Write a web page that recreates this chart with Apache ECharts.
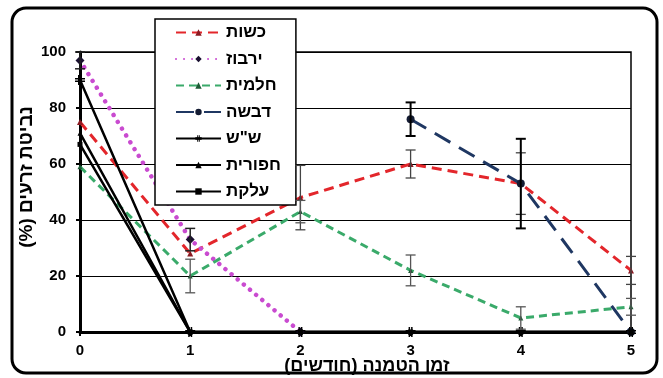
<!DOCTYPE html>
<html>
<head>
<meta charset="utf-8">
<script src="https://cdn.jsdelivr.net/npm/echarts@6/dist/echarts.min.js"></script>
<style>
  html, body { margin: 0; padding: 0; background: #fff; }
  #chart { width: 663px; height: 378px; }
</style>
</head>
<body>
<div id="chart"></div>
<script>
// Months after burial (x axis) and germination percentages per species
const months = [0, 1, 2, 3, 4, 5];
const yTicks = [0, 20, 40, 60, 80, 100];

const kshut     = [75, 28, 48, 60, 53, 22];
const kshutErr  = [null, null, 11.5, 5, 11, 5];
const yarbuz    = [97, 33, 0, null, null, null];
const yarbuzErr = [3, 4, null, null, null, null];
const halamit   = [59, 20, 43, 22, 5, 9];
const halamitErr= [null, 6, 4, 5.5, 4, 3];
const divsha    = [null, null, null, 76, 53, 0];
const divshaErr = [null, null, null, 6, 16, null];
const shash     = [90, 0, 0, 0, 0, 0];
const hafurit   = [71, 0, 0, 0, 0, 0];
const alaket    = [67, 0, 0, 0, 0, 0];

const names = ['כשות', 'ירבוז', 'חלמית', 'דבשה', 'ש"ש', 'חפורית', 'עלקת'];
const xTitle = 'זמן הטמנה (חודשים)\u200F';
const yTitle = 'נביטת זרעים (%)\u200F';

const FONT = '"Liberation Sans", Arial, "DejaVu Sans", sans-serif';

function pairs(vals) {
  return months.map((m, i) => [m, vals[i]]);
}
function errPairs(vals, errs) {
  const out = [];
  months.forEach((m, i) => {
    if (vals[i] != null && errs[i] != null) out.push([m, vals[i] - errs[i], vals[i] + errs[i]]);
  });
  return out;
}

function errorSeries(vals, errs, color, width) {
  return {
    type: 'custom',
    z: 5,
    silent: true,
    data: errPairs(vals, errs),
    renderItem: function (params, api) {
      const lo = api.coord([api.value(0), api.value(1)]);
      const hi = api.coord([api.value(0), api.value(2)]);
      const w = 5;
      const st = { stroke: color, lineWidth: width };
      return {
        type: 'group',
        children: [
          { type: 'line', shape: { x1: lo[0], y1: lo[1], x2: hi[0], y2: hi[1] }, style: st },
          { type: 'line', shape: { x1: lo[0] - w, y1: lo[1], x2: lo[0] + w, y2: lo[1] }, style: st },
          { type: 'line', shape: { x1: hi[0] - w, y1: hi[1], x2: hi[0] + w, y2: hi[1] }, style: st }
        ]
      };
    }
  };
}

const hashSymbol = 'path://M0,3H10V4.5H0ZM0,5.5H10V7H0ZM3,0H4.5V10H3ZM5.5,0H7V10H5.5Z';

const chart = echarts.init(document.getElementById('chart'));
chart.setOption({
  animation: false,
  backgroundColor: '#fff',
  grid: {
    left: 80, right: 32, top: 52, bottom: 46,
    show: true, borderColor: '#000', borderWidth: 1.5, backgroundColor: 'transparent'
  },
  xAxis: {
    type: 'value', min: 0, max: 5, interval: 1,
    axisLine: { lineStyle: { color: '#000', width: 3 } },
    axisTick: { show: true, length: 4, lineStyle: { color: '#000', width: 2 } },
    axisLabel: { color: '#000', fontFamily: FONT, fontWeight: 'bold', fontSize: 15, margin: 11 },
    splitLine: { show: false }
  },
  yAxis: {
    type: 'value', min: yTicks[0], max: yTicks[yTicks.length - 1], interval: 20,
    axisLine: { show: true, lineStyle: { color: '#000', width: 3 } },
    axisTick: { show: true, length: 4, lineStyle: { color: '#000', width: 2 } },
    axisLabel: { color: '#000', fontFamily: FONT, fontWeight: 'bold', fontSize: 15, margin: 14 },
    splitLine: { show: true, lineStyle: { color: '#000', width: 1.2 } }
  },
  legend: {
    orient: 'vertical',
    left: 155, top: 19,
    padding: [5, 15, 5, 20],
    itemWidth: 45, itemHeight: 8, itemGap: 9.5,
    backgroundColor: '#fff',
    borderColor: '#000', borderWidth: 1.5,
    textStyle: { color: '#000', fontFamily: FONT, fontWeight: 'bold', fontSize: 17, lineHeight: 14 },
    data: names
  },
  graphic: [
    {
      type: 'rect', silent: true, z: 100,
      shape: { x: 12, y: 8, width: 645, height: 365, r: 14 },
      style: { fill: 'none', stroke: '#000', lineWidth: 3 }
    },
    {
      type: 'text', silent: true,
      x: 367, y: 366,
      style: { text: xTitle, fill: '#000', font: 'bold 18px ' + FONT, align: 'center', verticalAlign: 'middle' }
    },
    {
      type: 'text', silent: true,
      x: 27, y: 177, rotation: Math.PI / 2,
      style: { text: yTitle, fill: '#000', font: 'bold 19px ' + FONT, align: 'center', verticalAlign: 'middle' }
    }
  ],
  series: [
    {
      name: names[0], type: 'line', data: pairs(kshut),
      lineStyle: { color: '#e3262b', width: 3, type: [10, 6] },
      itemStyle: { color: '#8a1a22' },
      symbol: 'triangle', symbolSize: 6, showAllSymbol: true
    },
    {
      name: names[1], type: 'line', data: pairs(yarbuz),
      lineStyle: { color: '#c94bd0', width: 4.5, type: [0.01, 8], cap: 'round' },
      itemStyle: { color: '#1a1030' },
      symbol: 'diamond', symbolSize: 9, showAllSymbol: true
    },
    {
      name: names[2], type: 'line', data: pairs(halamit),
      lineStyle: { color: '#3aaa6a', width: 3, type: [8, 5] },
      itemStyle: { color: '#1d5a35' },
      symbol: 'triangle', symbolSize: 5, showAllSymbol: true
    },
    {
      name: names[3], type: 'line', data: pairs(divsha),
      lineStyle: { color: '#1f3762', width: 3, type: [18, 10] },
      itemStyle: { color: '#141c33' },
      symbol: 'circle', symbolSize: 8, showAllSymbol: true
    },
    {
      name: names[4], type: 'line', data: pairs(shash),
      lineStyle: { color: '#000', width: 2.5 },
      itemStyle: { color: '#000' },
      symbol: hashSymbol, symbolSize: 10, showAllSymbol: true
    },
    {
      name: names[5], type: 'line', data: pairs(hafurit),
      lineStyle: { color: '#000', width: 2.5 },
      itemStyle: { color: '#000' },
      symbol: 'triangle', symbolSize: 5, showAllSymbol: true
    },
    {
      name: names[6], type: 'line', data: pairs(alaket),
      lineStyle: { color: '#000', width: 2.5 },
      itemStyle: { color: '#000' },
      symbol: 'rect', symbolSize: 5, showAllSymbol: true
    },
    errorSeries(kshut, kshutErr, '#444', 1.3),
    errorSeries(yarbuz, yarbuzErr, '#222', 1.5),
    errorSeries(halamit, halamitErr, '#555', 1.3),
    errorSeries(divsha, divshaErr, '#000', 2)
  ]
});
</script>
</body>
</html>
